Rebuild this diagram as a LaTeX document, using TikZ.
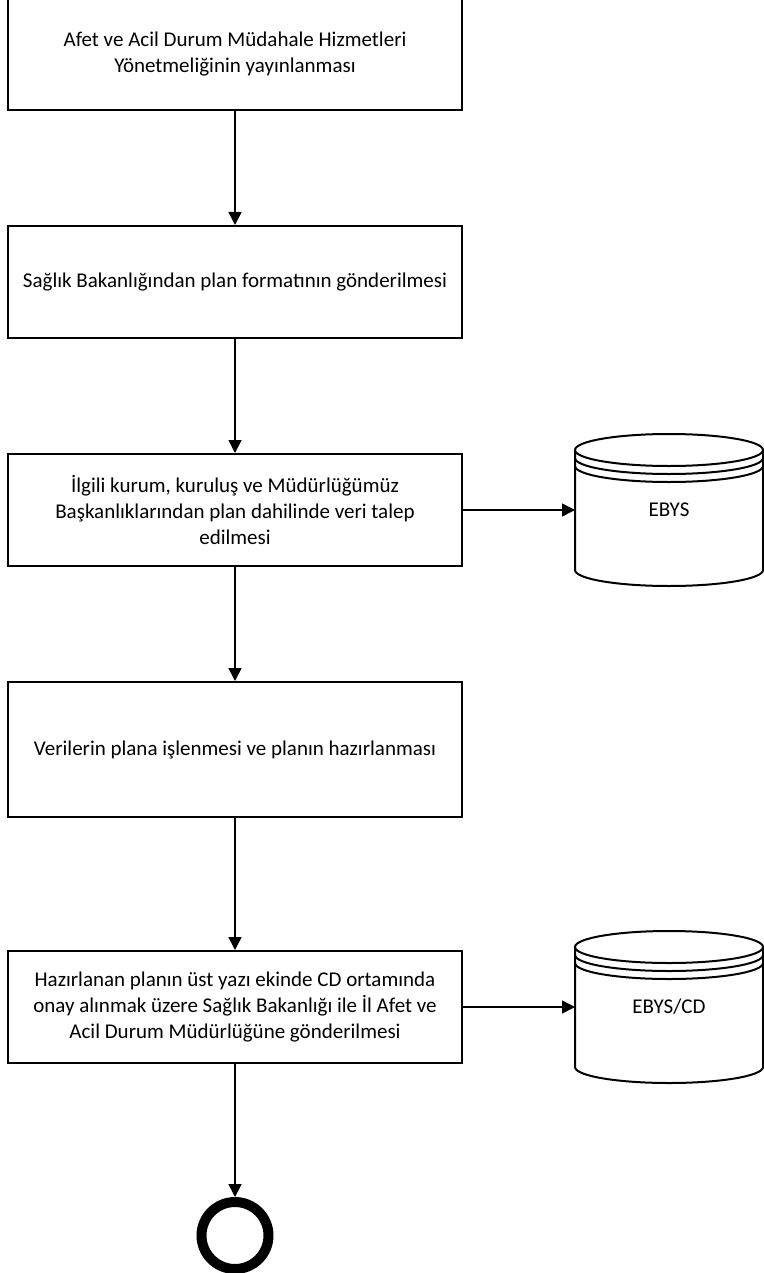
\documentclass[tikz,border=0pt]{standalone}
\usepackage{fontspec}
\setmainfont{Carlito}
\usetikzlibrary{positioning,arrows.meta}

\begin{document}
\begin{tikzpicture}[node distance=57pt and 56pt,
					stepbox/.style={draw,line width=1pt,minimum width=227pt,minimum height=56pt,align=center,font=\fontsize{10.5}{13}\selectfont},
					dbnode/.style={minimum width=94pt,minimum height=60pt,inner sep=0pt,outer sep=0pt,font=\fontsize{10.5}{13}\selectfont},
					dbline/.style={line width=1pt},
					endnode/.style={draw,circle,line width=5pt,minimum size=33.5pt,inner sep=0pt},
					flow/.style={line width=0.75pt,-{Triangle[length=6.5pt,width=6.5pt]}}
					]
	\useasboundingbox (0,0) rectangle (382pt,-636.5pt);
	\node[stepbox] (S1) at (117.5pt,-27pt) {Afet ve Acil Durum Müdahale Hizmetleri\\Yönetmeliğinin yayınlanması};
	\node[stepbox,below=of S1] (S2) {Sağlık Bakanlığından plan formatının gönderilmesi};
	\node[stepbox,below=of S2] (S3) {İlgili kurum, kuruluş ve Müdürlüğümüz\\Başkanlıklarından plan dahilinde veri talep\\edilmesi};
	\node[stepbox,minimum height=67.5pt,below=of S3] (S4) {Verilerin plana işlenmesi ve planın hazırlanması};
	\node[stepbox,below=66pt of S4] (S5) {Hazırlanan planın üst yazı ekinde CD ortamında\\onay alınmak üzere Sağlık Bakanlığı ile İl Afet ve\\Acil Durum Müdürlüğüne gönderilmesi};
	\node[endnode,below=66.5pt of S5] (E) {};
	\node[dbnode,right=of S3] (DB1) {EBYS};
	\node[dbnode,right=of S5] (DB2) {EBYS/CD};

	% cylinders round the two records
	\foreach \db in {DB1,DB2}{
		\draw[dbline] (\db.north west) -- (\db.south west) arc[start angle=180,end angle=360,x radius=47pt,y radius=8pt] -- (\db.north east) arc[start angle=0,end angle=360,x radius=47pt,y radius=8pt];
		\draw[dbline] ([yshift=-4pt]\db.north west) arc[start angle=180,end angle=360,x radius=47pt,y radius=8pt];
		\draw[dbline] ([yshift=-8pt]\db.north west) arc[start angle=180,end angle=360,x radius=47pt,y radius=8pt];
	}

	\path (S1) edge[flow] (S2)
	(S2) edge[flow] (S3)
	(S3) edge[flow] (S4)
	(S4) edge[flow] (S5)
	(S5) edge[flow] (E)

	(S3) edge[flow] (DB1)
	(S5) edge[flow] (DB2);
\end{tikzpicture}
\end{document}
